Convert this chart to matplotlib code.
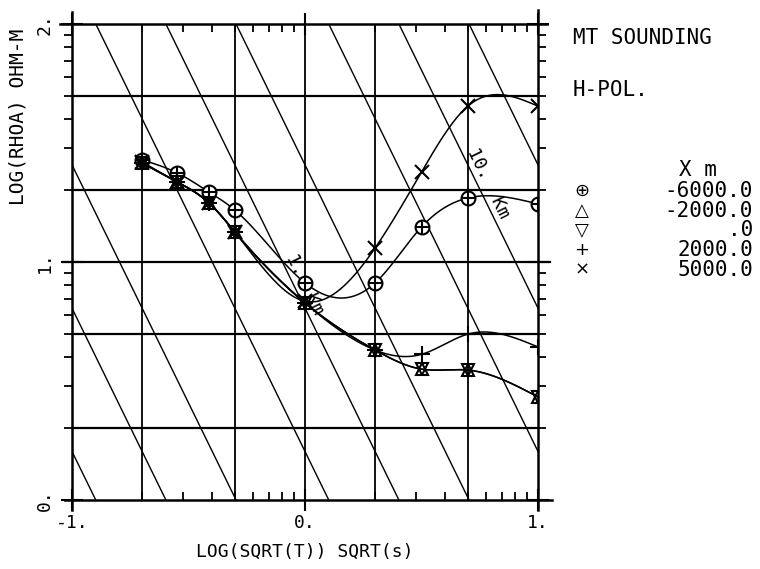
import numpy as np
import matplotlib
matplotlib.use("Agg")
import matplotlib.pyplot as plt

# ---------------- data ----------------
log_sqrt_t = [-0.699, -0.548, -0.412, -0.301, 0.0, 0.301, 0.5, 0.699, 1.0]
rho_m6000 = [1.429, 1.374, 1.294, 1.218, 0.912, 0.912, 1.147, 1.269, 1.244]
rho_m2000 = [1.416, 1.336, 1.248, 1.126, 0.828, 0.630, 0.550, 0.546, 0.433]
rho_0 = [1.416, 1.336, 1.248, 1.126, 0.828, 0.630, 0.550, 0.546, 0.433]
rho_p2000 = [1.416, 1.336, 1.248, 1.126, 0.828, 0.630, 0.612, 0.697, 0.643]
rho_p5000 = [1.420, 1.336, 1.248, 1.126, 0.835, 1.059, 1.378, 1.655, 1.655]

series_labels = ["-6000.0", "-2000.0", ".0", "2000.0", "5000.0"]
legend_symbols = ["\u2295", "\u25B3", "\u25BD", "+", "\u00D7"]

depths_km = [0.05, 0.1, 0.2, 0.5, 1, 2, 5, 10, 20]
depth_offset = 0.597  # log offset of depth lines at log(rho)=2

x_ticks = [-1, 0, 1]
x_ticklabels = ["-1.", "0.", "1."]
y_ticks = [0, 1, 2]
y_ticklabels = ["0.", "1.", "2."]

FONT = "DejaVu Sans Mono"


def natural_spline(x, y, n=400):
    x = np.asarray(x, float)
    y = np.asarray(y, float)
    m = len(x)
    h = np.diff(x)
    A = np.zeros((m, m))
    b = np.zeros(m)
    A[0, 0] = A[-1, -1] = 1.0
    for i in range(1, m - 1):
        A[i, i - 1] = h[i - 1]
        A[i, i] = 2 * (h[i - 1] + h[i])
        A[i, i + 1] = h[i]
        b[i] = 3 * ((y[i + 1] - y[i]) / h[i] - (y[i] - y[i - 1]) / h[i - 1])
    c = np.linalg.solve(A, b)
    xs = np.linspace(x[0], x[-1], n)
    idx = np.clip(np.searchsorted(x, xs) - 1, 0, m - 2)
    dx = xs - x[idx]
    bb = (y[idx + 1] - y[idx]) / h[idx] - h[idx] * (2 * c[idx] + c[idx + 1]) / 3
    d = (c[idx + 1] - c[idx]) / (3 * h[idx])
    ys = y[idx] + bb * dx + c[idx] * dx ** 2 + d * dx ** 3
    return xs, ys


fig = plt.figure(figsize=(7.6, 5.69), dpi=100)
ax = fig.add_axes([72 / 760, 1 - 500 / 569, 466 / 760, 476 / 569])
ax.set_xlim(-1, 1)
ax.set_ylim(0, 2)
for s in ax.spines.values():
    s.set_visible(False)

# frame lines extending slightly beyond the box
kw = dict(color="black", lw=1.8, clip_on=False, zorder=3)
ax.plot([-1.05, 1.04], [2, 2], **kw)
ax.plot([-1.03, 1.06], [0, 0], **kw)
ax.plot([-1, -1], [-0.04, 2.05], **kw)
ax.plot([1, 1], [-0.04, 2.06], **kw)

# grid lines at 2 and 5 of each decade, plus the 1 line
grid_vals = [np.log10(2) - 1, np.log10(5) - 1, 0.0, np.log10(2), np.log10(5)]
for gx in grid_vals:
    ax.axvline(gx, color="black", lw=1.3, zorder=1)
for gy in [np.log10(2), np.log10(5), np.log10(20), np.log10(50)]:
    ax.axhline(gy, color="black", lw=1.6, zorder=1)
ax.plot([-1.04, 1.05], [1, 1], color="black", lw=1.6, clip_on=False, zorder=1)

# depth lines (slope -2 in log-log)
xx = np.array([-3.0, 3.0])
for d in depths_km:
    x0 = np.log10(d) - depth_offset
    ax.plot(xx, 2 - 2 * (xx - x0), color="black", lw=1.0, zorder=1)

ax.text(0.785, 1.33, "10.  Km", rotation=-64, ha="center", va="center",
        fontsize=13, family=FONT, zorder=2)
ax.text(0.0, 0.905, "1.  Km", rotation=-64, ha="center", va="center",
        fontsize=13, family=FONT, zorder=2)

# ticks
minor = []
for dec in [-1, 0]:
    for k in range(2, 10):
        minor.append(dec + np.log10(k))
minor_y = [v + 1 for v in minor]
ax.set_xticks(x_ticks)
ax.set_xticklabels(x_ticklabels, family=FONT, fontsize=13)
ax.set_xticks(minor, minor=True)
ax.set_yticks(y_ticks)
ax.set_yticklabels(y_ticklabels, family=FONT, fontsize=13, rotation=90, va="center")
ax.set_yticks(minor_y, minor=True)
ax.tick_params(axis="x", which="major", direction="inout", length=16, width=1.5,
               top=True, bottom=True, pad=2)
ax.tick_params(axis="x", which="minor", direction="in", length=6, width=1.3,
               top=True, bottom=True)
ax.tick_params(axis="y", which="major", direction="inout", length=16, width=1.5,
               left=True, right=True, pad=5)
ax.tick_params(axis="y", which="minor", direction="out", length=6, width=1.3,
               left=True, right=True)

ax.set_xlabel("LOG(SQRT(T)) SQRT(s)", family=FONT, fontsize=13, labelpad=8)
fig.text(18 / 760, 1 - 117 / 569, "LOG(RHOA) OHM-M", rotation=90, ha="center",
         va="center", family=FONT, fontsize=14)

# curves and markers
all_series = [rho_m6000, rho_m2000, rho_0, rho_p2000, rho_p5000]
for vals in all_series:
    xs, ys = natural_spline(log_sqrt_t, vals)
    ax.plot(xs, ys, color="black", lw=1.1, zorder=4)

mk = dict(color="black", ls="none", zorder=5, mew=1.5)
ax.plot(log_sqrt_t, rho_m6000, marker="o", ms=10, mfc="white", **mk)
ax.plot(log_sqrt_t, rho_m6000, marker="+", ms=10, **mk)
ax.plot(log_sqrt_t, rho_m2000, marker="^", ms=9, mfc="none", **mk)
ax.plot(log_sqrt_t, rho_0, marker="v", ms=9, mfc="none", **mk)
ax.plot(log_sqrt_t, rho_p2000, marker="+", ms=11, **mk)
ax.plot(log_sqrt_t, rho_p5000, marker="x", ms=10, **mk)

# right-side annotation
fig.text(573 / 760, 1 - 38 / 569, "MT SOUNDING", ha="left", va="center",
         family=FONT, fontsize=15)
fig.text(573 / 760, 1 - 90 / 569, "H-POL.", ha="left", va="center",
         family=FONT, fontsize=15)
fig.text(698 / 760, 1 - 170 / 569, "X m", ha="center", va="center",
         family=FONT, fontsize=15)
leg_y = [191, 211, 230, 250, 270]
for sym, lab, py in zip(legend_symbols, series_labels, leg_y):
    fig.text(582 / 760, 1 - py / 569, sym, ha="center", va="center",
             family="DejaVu Sans", fontsize=13)
    fig.text(753 / 760, 1 - py / 569, lab, ha="right", va="center",
             family=FONT, fontsize=15)

fig.savefig("out.png", dpi=100)
